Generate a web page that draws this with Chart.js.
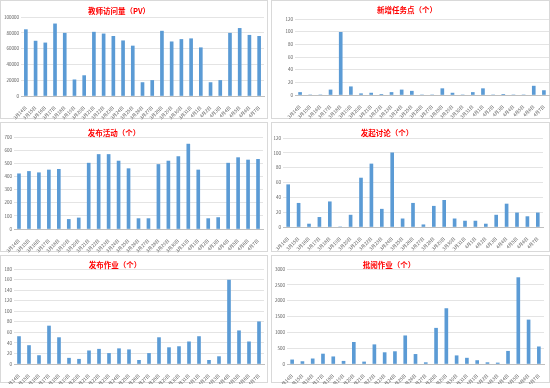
<!DOCTYPE html>
<html>
<head>
<meta charset="utf-8">
<script src="https://cdn.jsdelivr.net/npm/chart.js@4.4.0/dist/chart.umd.min.js"></script>
<style>
  body { margin: 0; background: #fff; width: 550px; height: 388px; overflow: hidden; position: relative; }
  .panel { position: absolute; border: 1px solid #d9d9d9; box-sizing: border-box; }
  .panel canvas { position: absolute; left: 0; top: 0; }
  .ttl { position: absolute; color: #ff0000; font: bold 7.5px "Noto Sans CJK SC", sans-serif; white-space: nowrap; transform: translate(-50%, -50%); }
</style>
</head>
<body>
<div class="panel" id="pA" style="left:0;top:0;width:268px;height:119px"><canvas id="cA" width="268" height="119"></canvas></div>
<div class="panel" id="pB" style="left:271px;top:0;width:279px;height:119px"><canvas id="cB" width="279" height="119"></canvas></div>
<div class="panel" id="pC" style="left:0;top:122px;width:268px;height:130px"><canvas id="cC" width="268" height="130"></canvas></div>
<div class="panel" id="pD" style="left:271px;top:122px;width:279px;height:130px"><canvas id="cD" width="279" height="130"></canvas></div>
<div class="panel" id="pE" style="left:0;top:255px;width:268px;height:128px"><canvas id="cE" width="268" height="128"></canvas></div>
<div class="panel" id="pF" style="left:271px;top:255px;width:279px;height:128px"><canvas id="cF" width="279" height="128"></canvas></div>

<div class="ttl" style="left:119px;top:10px">教师访问量（PV）</div>
<div class="ttl" style="left:407px;top:9px">新增任务点（个）</div>
<div class="ttl" style="left:114px;top:132px">发布活动（个）</div>
<div class="ttl" style="left:387px;top:132px">发起讨论（个）</div>
<div class="ttl" style="left:115px;top:264px">发布作业（个）</div>
<div class="ttl" style="left:389px;top:264px">批阅作业（个）</div>

<script>
const days = ['3月14日', '3月15日', '3月16日', '3月17日', '3月18日', '3月19日', '3月20日',
  '3月21日', '3月22日', '3月23日', '3月24日', '3月25日', '3月26日', '3月27日',
  '3月28日', '3月29日', '3月30日', '3月31日', '4月1日', '4月2日', '4月3日',
  '4月4日', '4月5日', '4月6日', '4月7日'];

const pageViews = [84000, 69500, 67200, 91300, 79500, 20500, 25800, 80800, 78600, 75500, 69900, 63300, 17000,
  19700, 82100, 68600, 71600, 72500, 61100, 17000, 19700, 79500, 85600, 76900, 75500];
const newTasks = [4, 0, 0, 8, 99, 13, 2, 3, 1, 4, 8, 6, 0, 0, 10, 3, 0, 4, 10, 0, 1, 0, 0, 14, 7];
const activities = [420, 438, 428, 449, 454, 73, 84, 501, 567, 567, 517, 459, 79, 79, 491, 517, 551, 646,
  449, 79, 87, 501, 543, 525, 530];
const discussions = [57, 32, 4, 13, 34, 0, 16, 66, 85, 24, 100, 11, 32, 3, 28, 36, 11, 8, 8, 4, 16, 31, 19, 14, 19];
const homework = [52, 35, 16, 72, 50, 11, 9, 25, 28, 20, 29, 27, 7, 20, 50, 31, 33, 42, 52, 7, 14, 159, 63, 42, 80];
const marked = [130, 76, 163, 315, 228, 87, 685, 65, 609, 359, 391, 891, 304, 43, 1130, 1750, 261, 185, 109,
  43, 33, 402, 2728, 1391, 543];

const tickFont = { family: '"Noto Sans CJK SC", sans-serif', size: 4.5 };

function makeChart(id, values, max, step, yWidth, xHeight, pad) {
  new Chart(document.getElementById(id), {
    type: 'bar',
    data: {
      labels: days,
      datasets: [{ data: values, backgroundColor: '#5b9bd5', barThickness: 3 }]
    },
    options: {
      responsive: false,
      devicePixelRatio: 1,
      animation: false,
      layout: { padding: pad },
      plugins: { legend: { display: false }, tooltip: { enabled: false } },
      scales: {
        x: {
          grid: { display: false },
          border: { color: '#bfbfbf' },
          ticks: { font: tickFont, color: '#595959', minRotation: 45, maxRotation: 45, autoSkip: false, padding: 1 },
          afterFit: s => { s.height = xHeight; }
        },
        y: {
          min: 0, max: max,
          grid: { color: '#e4e4e4', drawTicks: false },
          border: { display: false },
          ticks: { stepSize: step, font: tickFont, color: '#595959', padding: 2, callback: v => String(v) },
          afterFit: s => { s.width = yWidth; }
        }
      }
    }
  });
}

makeChart('cA', pageViews, 100000, 10000, 20, 24, { top: 16, right: 5, left: 0, bottom: 0 });
makeChart('cB', newTasks, 120, 20, 23, 25, { top: 18, right: 2, left: 0, bottom: 0 });
makeChart('cC', activities, 700, 100, 13, 24, { top: 14, right: 6, left: 0, bottom: 0 });
makeChart('cD', discussions, 120, 20, 11, 26, { top: 15, right: 8, left: 0, bottom: 0 });
makeChart('cE', homework, 180, 20, 13, 20, { top: 13, right: 5, left: 0, bottom: 0 });
makeChart('cF', marked, 3000, 500, 15, 20, { top: 13, right: 7, left: 0, bottom: 0 });
</script>
</body>
</html>
